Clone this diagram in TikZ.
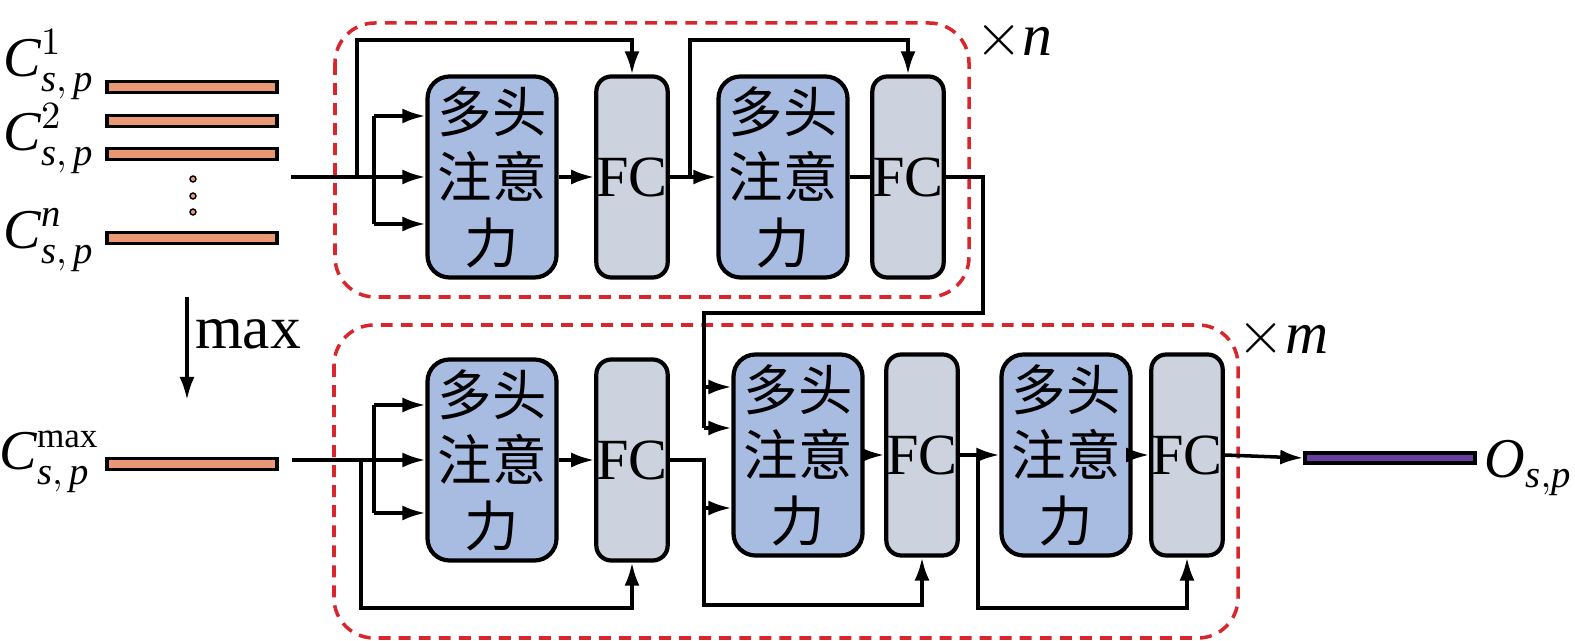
\documentclass[tikz,border=0pt]{standalone}
\usepackage{fontspec}
\setmainfont{Liberation Serif}
\newfontfamily\cjk{Noto Sans CJK SC}
\DeclareMathSizes{16}{16}{11}{8}
\usepackage{tikz}
\usetikzlibrary{arrows.meta}
\definecolor{mhaBlue}{HTML}{A8BCE2}
\definecolor{fcGray}{HTML}{CCD3DF}
\definecolor{barOrange}{HTML}{EA9873}
\definecolor{outPurple}{HTML}{6A3D9E}
\definecolor{frameRed}{HTML}{D9262C}

\begin{document}
\begin{tikzpicture}
[x=0.1mm,y=-0.1mm,
  mhaDecorate/.style={shape=rectangle,rounded corners=2.2mm,draw,line width=1.2pt,fill=mhaBlue,minimum width=1.29cm,minimum height=2.01cm,inner sep=0pt,align=center,font=\cjk\fontsize{15.5}{18.6}\selectfont},%
  fcDecorate/.style={shape=rectangle,rounded corners=1.5mm,draw,line width=1.2pt,fill=fcGray,minimum width=0.71cm,minimum height=2.01cm,inner sep=0pt,font=\fontsize{16.6}{20}\selectfont},%
  barDecorate/.style={shape=rectangle,draw,line width=1pt,minimum width=1.70cm,minimum height=0.11cm,inner sep=0pt},%
  dotDecorate/.style={shape=circle,draw,line width=0.4pt,fill=barOrange,minimum size=0.6mm,inner sep=0pt},%
  labelDecorate/.style={inner sep=0pt,font=\fontsize{16}{19}\selectfont},%
  lineDecorate/.style={-,line width=1pt},%
  arrowDecorate/.style={-{Latex[length=2.3mm,width=1.5mm]},line width=1pt},%
  frameDecorate/.style={draw=frameRed,dash pattern=on 3.4pt off 2.3pt,line width=1pt,rounded corners=4mm}]
\useasboundingbox (0,0) rectangle (1575,641);
%% dashed frames
\draw[frameDecorate] (335,23) rectangle (969,297);
\draw[frameDecorate] (334,325) rectangle (1238,638);
\node (xn) at (1014,40) [labelDecorate,font=\fontsize{17}{20}\selectfont] {$\times\mathit{n}$};
\node (xm) at (1283,338) [labelDecorate,font=\fontsize{17}{20}\selectfont] {$\times\mathit{m}$};
%% inputs
\foreach \nodename/\y in {c1/87, c2/121, c3/154, cn/238, cmax/464} {
  \node (\nodename) at (192,\y) [barDecorate,fill=barOrange] {};
}
\foreach \nodename/\y in {d1/179, d2/196, d3/212} {
  \node (\nodename) at (193,\y) [dotDecorate] {};
}
\node (l1) at (95,65) [labelDecorate,anchor=east] {$\mathit{C}^{1}_{\mathit{s},\,\mathit{p}}$};
\node (l2) at (95,139) [labelDecorate,anchor=east] {$\mathit{C}^{2}_{\mathit{s},\,\mathit{p}}$};
\node (ln) at (95,240) [labelDecorate,anchor=east] {$\mathit{C}^{\mathit{n}}_{\mathit{s},\,\mathit{p}}$};
\node (lmax) at (100,462) [labelDecorate,anchor=east] {$\mathit{C}^{\mbox{\fontsize{10}{12}\selectfont max}}_{\mathit{s},\,\mathit{p}}$};
\coordinate (maxTop) at (187,297);
\coordinate (maxBot) at (187,400);
\draw[arrowDecorate] (maxTop) -- (maxBot);
\node (maxText) at (248,334) [labelDecorate,font=\fontsize{17.5}{20}\selectfont] {max};
%% blocks
\foreach \nodename/\x/\y in {m1/492/177, m2/783/177, m3/492/460, m4/798/455, m5/1066/455} {
  \node (\nodename) at (\x,\y) [mhaDecorate] {多头\\注意\\力};
}
\foreach \nodename/\x/\y in {f1/632/177, f2/908/177, f3/632/460, f4/922/455, f5/1187/455} {
  \node (\nodename) at (\x,\y) [fcDecorate] {FC};
}
%% output
\node (out) at (1390,458) [barDecorate,fill=outPurple,minimum height=0.10cm] {};
\node (lout) at (1573,468) [labelDecorate,anchor=east] {$\mathit{O}_{\mathit{s},\mathit{p}}$};
%% helper points
\coordinate (in1) at (291,177);
\coordinate (b1) at (374,116);
\coordinate (b2) at (374,224);
\coordinate (k1) at (357,40);
\coordinate (k2) at (690,40);
\coordinate (t1) at (983,313);
\coordinate (q1) at (704,387);
\coordinate (q2) at (704,428);
\coordinate (in2) at (292,460);
\coordinate (b3) at (374,405);
\coordinate (b4) at (374,513);
\coordinate (k3) at (361,608);
\coordinate (k4) at (704,605);
\coordinate (r1) at (704,508);
\coordinate (k5) at (978,608);
%% upper stack
\draw[arrowDecorate] (in1) -- (m1.west);
\draw[lineDecorate] (b1) -- (b2);
\draw[arrowDecorate] (b1) -- (b1 -| m1.west);
\draw[arrowDecorate] (b2) -- (b2 -| m1.west);
\draw[arrowDecorate] (in1 -| k1) -- (k1) -| (f1.north);
\draw[arrowDecorate] (m1) -- (f1);
\draw[arrowDecorate] (f1) -- (m2);
\draw[arrowDecorate] (f1.east -| k2) -- (k2) -| (f2.north);
\draw[lineDecorate] (m2) -- (f2);
\draw[lineDecorate] (f2.east) -| (t1) -| (q2);
\draw[arrowDecorate] (q1) -- (q1 -| m4.west);
\draw[arrowDecorate] (q2) -- (q2 -| m4.west);
%% lower stack
\draw[arrowDecorate] (in2) -- (m3.west);
\draw[lineDecorate] (b3) -- (b4);
\draw[arrowDecorate] (b3) -- (b3 -| m3.west);
\draw[arrowDecorate] (b4) -- (b4 -| m3.west);
\draw[arrowDecorate] (in2 -| k3) -- (k3) -| (f3.south);
\draw[arrowDecorate] (m3) -- (f3);
\draw[arrowDecorate] (f3.east) -| (k4) -| (f4.south);
\draw[arrowDecorate] (r1) -- (r1 -| m4.west);
\draw[arrowDecorate] (m4) -- (f4);
\draw[arrowDecorate] (f4.east) -- (m5.west);
\draw[arrowDecorate] (f4.east -| k5) -- (k5) -| (f5.south);
\draw[arrowDecorate] (m5) -- (f5);
\draw[arrowDecorate] (f5.east) -- (out.west);
\end{tikzpicture}
\end{document}
